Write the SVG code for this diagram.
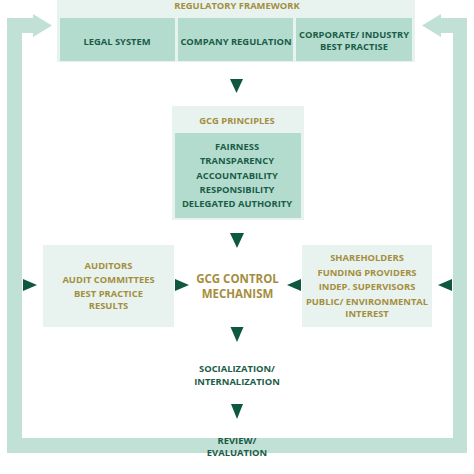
<svg xmlns="http://www.w3.org/2000/svg" width="474" height="474" viewBox="0 0 474 474">
<style>
text{font-family:"Open Sans","Liberation Sans",sans-serif;font-weight:700;font-size:9.4px;text-anchor:middle}
.g{fill:#a48e3e}
.d{fill:#1b5c47}
.light{fill:#e8f3ef}
.teal{fill:#b3dccf}
.arr{fill:#0e5842}
.big{font-size:11.5px}
</style>
<rect width="474" height="474" fill="#ffffff"/>
<g id="connectors">
<path id="feedback-frame" fill="#c1e1d7" d="M7 18 H33 V14 L52 25.5 L33 37 V33 H22 V438 H453 V33 H441 V37 L422 25.5 L441 14 V18 H467 V453 H7 Z"/>
<polygon class="arr" points="230,79 243,79 236.5,93"/>
<polygon class="arr" points="230,233 244,233 237,248"/>
<polygon class="arr" points="230.5,327 243.5,327 237,342"/>
<polygon class="arr" points="231,404 243,404 237,419"/>
<polygon class="arr" points="23,279 23,291 37,285"/>
<polygon class="arr" points="175,279 175,291 189,285"/>
<polygon class="arr" points="301,279 301,291 287,285"/>
<polygon class="arr" points="452,279 452,291 438,285"/>
</g>
<g id="regulatory-framework">
<rect class="light" x="57" y="0" width="358" height="62"/>
<text class="g" x="237" y="8.5">REGULATORY FRAMEWORK</text>
</g>
<g id="legal-system">
<rect class="teal" x="60" y="18" width="115" height="43"/>
<text class="d" x="117" y="44.5">LEGAL SYSTEM</text>
</g>
<g id="company-regulation">
<rect class="teal" x="178" y="18" width="115" height="43"/>
<text class="d" x="236" y="44.5">COMPANY REGULATION</text>
</g>
<g id="corporate-industry">
<rect class="teal" x="296" y="18" width="116" height="43"/>
<text class="d" x="354" y="38">CORPORATE/ INDUSTRY</text>
<text class="d" x="354" y="50">BEST PRACTISE</text>
</g>
<g id="gcg-principles">
<rect class="light" x="172" y="106" width="132" height="114"/>
<text class="g" x="237" y="123.5">GCG PRINCIPLES</text>
<rect class="teal" x="175" y="133" width="126" height="85"/>
<text class="d" x="237" y="149.5">FAIRNESS</text>
<text class="d" x="237" y="164">TRANSPARENCY</text>
<text class="d" x="237" y="178.5">ACCOUNTABILITY</text>
<text class="d" x="237" y="192.5">RESPONSIBILITY</text>
<text class="d" x="237" y="207">DELEGATED AUTHORITY</text>
</g>
<g id="auditors">
<rect class="light" x="43" y="245" width="131" height="82"/>
<text class="g" x="108.5" y="268.5">AUDITORS</text>
<text class="g" x="108.5" y="282.5">AUDIT COMMITTEES</text>
<text class="g" x="108.5" y="297">BEST PRACTICE</text>
<text class="g" x="108.5" y="309">RESULTS</text>
</g>
<g id="gcg-control">
<text class="g big" x="237.5" y="283">GCG CONTROL</text>
<text class="g big" x="237.5" y="298">MECHANISM</text>
</g>
<g id="stakeholders">
<rect class="light" x="302" y="245" width="130" height="82"/>
<text class="g" x="367" y="261">SHAREHOLDERS</text>
<text class="g" x="367" y="275.5">FUNDING PROVIDERS</text>
<text class="g" x="367" y="290">INDEP. SUPERVISORS</text>
<text class="g" x="367" y="305">PUBLIC/ ENVIRONMENTAL</text>
<text class="g" x="367" y="316.5">INTEREST</text>
</g>
<g id="socialization">
<text class="d" x="237" y="372">SOCIALIZATION/</text>
<text class="d" x="237" y="384.5">INTERNALIZATION</text>
</g>
<g id="review">
<text class="d" x="237" y="444">REVIEW/</text>
<text class="d" x="237" y="455.5">EVALUATION</text>
</g>
</svg>
